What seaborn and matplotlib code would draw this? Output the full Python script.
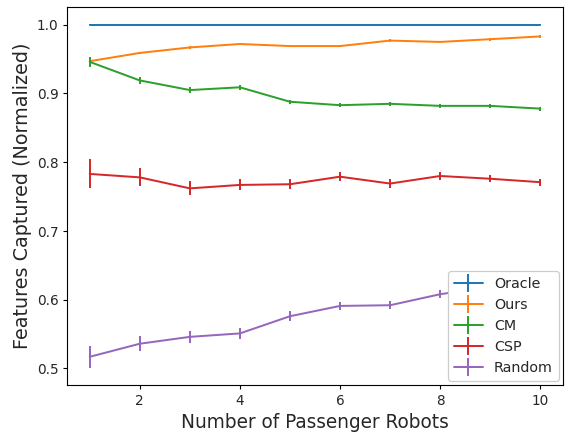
import matplotlib
matplotlib.use("Agg")
import matplotlib.pyplot as plt
from matplotlib.lines import Line2D
import numpy as np
import pandas as pd
import seaborn as sns

robots = [1, 2, 3, 4, 5, 6, 7, 8, 9, 10]
methods = ["Oracle", "Ours", "CM", "CSP", "Random"]

oracle_mean = [1.0, 1.0, 1.0, 1.0, 1.0, 1.0, 1.0, 1.0, 1.0, 1.0]
oracle_err = [0.001, 0.001, 0.001, 0.001, 0.001, 0.001, 0.001, 0.001, 0.001, 0.001]

ours_mean = [0.947, 0.959, 0.967, 0.972, 0.969, 0.969, 0.977, 0.975, 0.979, 0.983]
ours_err = [0.003, 0.002, 0.002, 0.002, 0.002, 0.002, 0.002, 0.002, 0.002, 0.002]

cm_mean = [0.946, 0.919, 0.905, 0.909, 0.888, 0.883, 0.885, 0.882, 0.882, 0.878]
cm_err = [0.007, 0.005, 0.004, 0.004, 0.003, 0.003, 0.003, 0.003, 0.003, 0.003]

csp_mean = [0.783, 0.778, 0.762, 0.767, 0.768, 0.779, 0.769, 0.780, 0.776, 0.771]
csp_err = [0.021, 0.013, 0.010, 0.008, 0.007, 0.007, 0.007, 0.006, 0.005, 0.005]

random_mean = [0.517, 0.536, 0.546, 0.551, 0.576, 0.591, 0.592, 0.608, 0.619, 0.628]
random_err = [0.016, 0.011, 0.009, 0.008, 0.007, 0.006, 0.006, 0.006, 0.005, 0.005]

means = [oracle_mean, ours_mean, cm_mean, csp_mean, random_mean]
errs = [oracle_err, ours_err, cm_err, csp_err, random_err]

df = pd.DataFrame({
    "robots": np.tile(robots, len(methods)),
    "score": np.concatenate(means),
    "err": np.concatenate(errs),
    "method": np.repeat(methods, len(robots)),
})

sns.set_style("white")
plt.rcParams["font.family"] = ["DejaVu Sans"]
plt.rcParams["axes.edgecolor"] = "black"
plt.rcParams["axes.linewidth"] = 0.9

palette = sns.color_palette("tab10", len(methods))

fig, ax = plt.subplots(figsize=(6.4, 4.9), dpi=89)
fig.subplots_adjust(left=0.118, right=0.988, top=0.984, bottom=0.117)

sns.lineplot(data=df, x="robots", y="score", hue="method", hue_order=methods,
             palette=palette, linewidth=1.6, legend=False, ax=ax,
             estimator=None, sort=True)

for m, c in zip(methods, palette):
    sub = df[df["method"] == m]
    ax.errorbar(sub["robots"], sub["score"], yerr=sub["err"], fmt="none",
                ecolor=c, elinewidth=1.6, capsize=0)

ax.tick_params(axis="both", which="major", direction="out", length=3.5,
               width=0.9, labelsize=11, left=True, bottom=True, color="black")
ax.set_xticks([2, 4, 6, 8, 10])
ax.set_yticks([0.5, 0.6, 0.7, 0.8, 0.9, 1.0])
ax.set_xlabel("Number of Passenger Robots", fontsize=15)
ax.set_ylabel("Features Captured (Normalized)", fontsize=15.5)
for s in ax.spines.values():
    s.set_color("black")

handles = [Line2D([], [], color=c, linewidth=1.6, marker="|", markersize=15,
                  markeredgewidth=1.6) for c in palette]
leg = ax.legend(handles, methods, loc="lower right", fontsize=11.5,
                framealpha=1.0, edgecolor="#cccccc", handlelength=2.0,
                borderaxespad=0.3)
leg.set_zorder(10)

fig.savefig("out.png", dpi=89)
